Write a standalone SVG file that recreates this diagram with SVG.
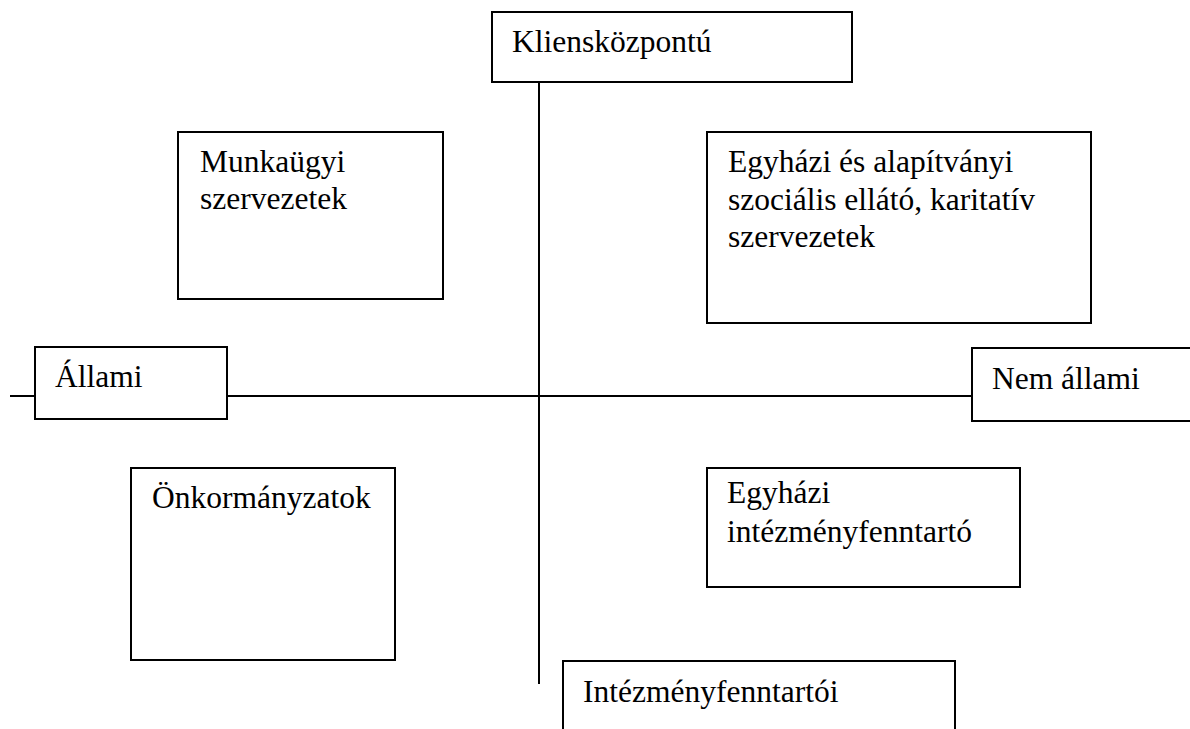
<svg xmlns="http://www.w3.org/2000/svg" width="1190" height="729" viewBox="0 0 1190 729">
<style>
.box{fill:#fff;stroke:#000;stroke-width:2}
.ln{stroke:#000;stroke-width:2;fill:none}
text{font-family:"Liberation Serif","Times New Roman",serif;font-size:31.5px;fill:#000}
</style>
<rect width="1190" height="729" fill="#fff"/>
<g id="connectors">
<line class="ln" x1="539" y1="82" x2="539" y2="684"/>
<line class="ln" x1="10" y1="396" x2="972" y2="396"/>
</g>
<g id="node-kliens"><rect class="box" x="492" y="12" width="360" height="70"/><text x="512" y="52">Kliensközpontú</text></g>
<g id="node-munkaugyi"><rect class="box" x="178" y="132" width="265" height="167"/><text x="200" y="172">Munkaügyi</text><text x="200" y="209">szervezetek</text></g>
<g id="node-egyhazi-alap"><rect class="box" x="707" y="132" width="384" height="191"/><text x="728" y="172">Egyházi és alapítványi</text><text x="728" y="210">szociális ellátó, karitatív</text><text x="728" y="247">szervezetek</text></g>
<g id="node-allami"><rect class="box" x="35" y="347" width="192" height="72"/><text x="55" y="387">Állami</text></g>
<g id="node-nemallami"><rect class="box" x="972" y="348" width="230" height="73"/><text x="992" y="389">Nem állami</text></g>
<g id="node-onkormanyzatok"><rect class="box" x="131" y="468" width="264" height="192"/><text x="152" y="508">Önkormányzatok</text></g>
<g id="node-egyhazi-int"><rect class="box" x="707" y="468" width="313" height="119"/><text x="727" y="503">Egyházi</text><text x="727" y="542">intézményfenntartó</text></g>
<g id="node-intezmeny"><rect class="box" x="563" y="661" width="392" height="80"/><text x="583" y="702">Intézményfenntartói</text></g>
</svg>
